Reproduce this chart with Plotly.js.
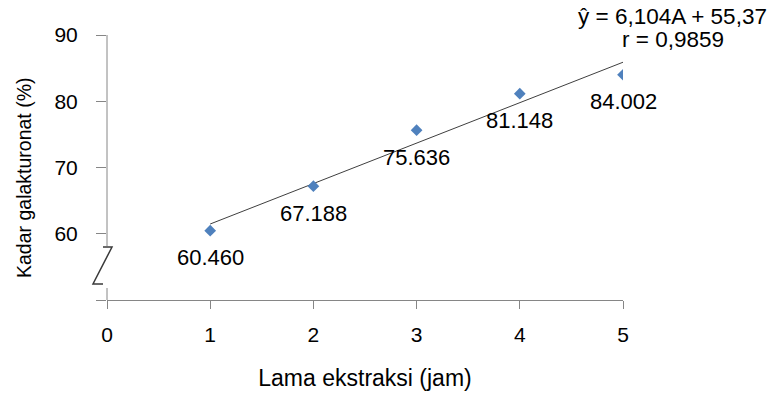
<!DOCTYPE html>
<html>
<head>
<meta charset="utf-8">
<script src="https://cdn.plot.ly/plotly-3.0.1.min.js"></script>
<style>html,body{margin:0;padding:0;background:#fff;}#chart{width:773px;height:393px;}</style>
</head>
<body>
<div id="chart"></div>
<script>
// Data
var lamaJam = [1, 2, 3, 4, 5];
var kadarGalakturonat = [60.460, 67.188, 75.636, 81.148, 84.002];
var labelText = ['60.460', '67.188', '75.636', '81.148', '84.002'];
var trendX = [1, 5];
var trendY = [61.47, 85.89];
var xTickVals = [0, 1, 2, 3, 4, 5];
var xTickText = ['0', '1', '2', '3', '4', '5'];
var yTickVals = [50, 60, 70, 80, 90];
var yTickText = ['', '60', '70', '80', '90'];
var equationText = 'ŷ = 6,104A + 55,37';
var rText = 'r = 0,9859';

var FONT = 'Liberation Sans, Arial, sans-serif';
var L = 107, R = 150, T = 35, B = 93, W = 773, H = 393;
var pw = W - L - R, ph = H - T - B;
function px(x) { return (x - L) / pw; }
function py(y) { return (H - B - y) / ph; }

var traces = [
  {
    x: trendX, y: trendY, type: 'scatter', mode: 'lines',
    line: {color: '#3f3f3f', width: 1}, hoverinfo: 'skip', showlegend: false
  },
  {
    x: lamaJam, y: kadarGalakturonat, type: 'scatter', mode: 'markers',
    marker: {symbol: 'diamond', size: 9, color: '#4F81BD'}, showlegend: false
  }
];

var annotations = lamaJam.map(function (v, i) {
  return {
    x: v, y: kadarGalakturonat[i], xref: 'x', yref: 'y', text: labelText[i],
    showarrow: false, yshift: -27, xanchor: 'center', yanchor: 'middle',
    font: {family: FONT, size: 22, color: '#000'}
  };
});
annotations.push({
  x: px(672), y: py(16), xref: 'paper', yref: 'paper', text: equationText,
  showarrow: false, xanchor: 'center', yanchor: 'middle',
  font: {family: FONT, size: 22.5, color: '#000'}
});
annotations.push({
  x: px(673), y: py(39), xref: 'paper', yref: 'paper', text: rText,
  showarrow: false, xanchor: 'center', yanchor: 'middle',
  font: {family: FONT, size: 22.5, color: '#000'}
});
annotations.push({
  x: px(24), y: py(178), xref: 'paper', yref: 'paper', text: 'Kadar galakturonat (%)',
  showarrow: false, textangle: -90, xanchor: 'center', yanchor: 'middle',
  font: {family: FONT, size: 19.5, color: '#000'}
});

var axisColor = '#868686';
var shapes = [
  {type: 'line', xref: 'paper', yref: 'paper', x0: 0, x1: 0, y0: 1, y1: py(246),
   line: {color: axisColor, width: 1}},
  {type: 'line', xref: 'paper', yref: 'paper', x0: 0, x1: 0, y0: py(288), y1: 0,
   line: {color: axisColor, width: 1}},
  {type: 'path', xref: 'paper', yref: 'paper',
   path: 'M ' + px(103) + ',' + py(247) + ' L ' + px(112) + ',' + py(247) +
         ' L ' + px(93) + ',' + py(284) + ' L ' + px(103) + ',' + py(284),
   line: {color: '#3a3a3a', width: 1.5}}
];

var layout = {
  width: W, height: H,
  margin: {l: L, r: R, t: T, b: B, pad: 0},
  paper_bgcolor: '#fff', plot_bgcolor: '#fff',
  showlegend: false,
  xaxis: {
    range: [0, 5], tickvals: xTickVals, ticktext: xTickText,
    showgrid: false, zeroline: false, showline: true, linecolor: axisColor, linewidth: 1,
    ticks: 'outside', ticklen: 8, tickcolor: axisColor, tickwidth: 1,
    ticklabelstandoff: 8,
    tickfont: {family: FONT, size: 21, color: '#000'},
    title: {text: 'Lama ekstraksi (jam)', font: {family: FONT, size: 23, color: '#000'}, standoff: 24}
  },
  yaxis: {
    range: [50, 90], tickvals: yTickVals, ticktext: yTickText,
    showgrid: false, zeroline: false, showline: false,
    ticks: 'outside', ticklen: 10, tickcolor: axisColor, tickwidth: 1,
    ticklabelstandoff: 14,
    tickfont: {family: FONT, size: 21, color: '#000'}
  },
  annotations: annotations,
  shapes: shapes
};

Plotly.newPlot('chart', traces, layout, {displayModeBar: false, staticPlot: true});
</script>
</body>
</html>
